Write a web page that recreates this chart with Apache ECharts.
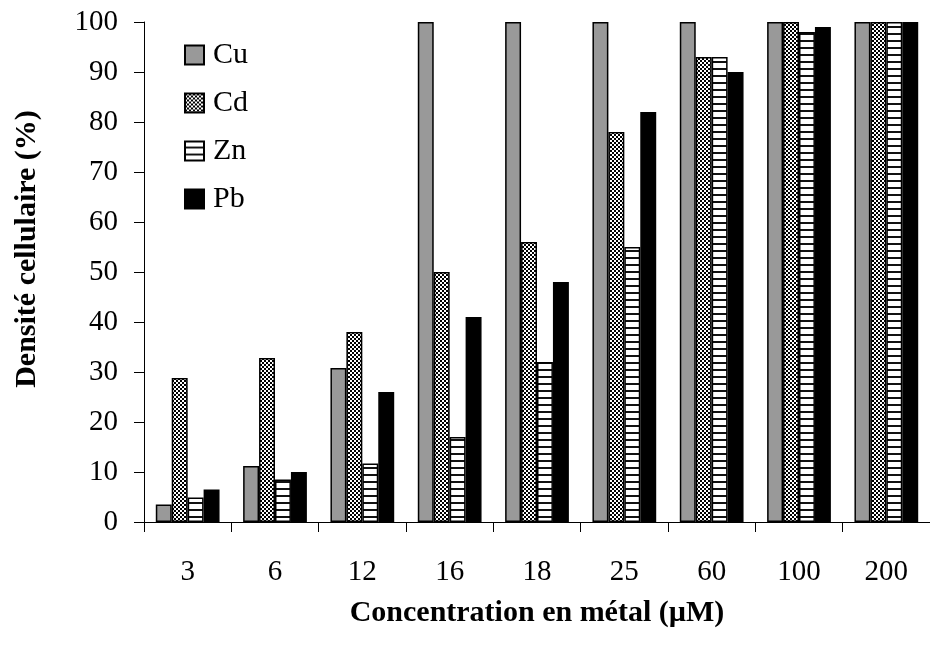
<!DOCTYPE html>
<html>
<head>
<meta charset="utf-8">
<script src="https://cdn.jsdelivr.net/npm/echarts@6/dist/echarts.min.js"></script>
<style>
  html, body { margin: 0; padding: 0; background: #fff; }
  #chart { width: 930px; height: 657px; }
</style>
</head>
<body>
<div id="chart"></div>
<script>
var categories = ['3', '6', '12', '16', '18', '25', '60', '100', '200'];
var cu = [3.5, 11.2, 30.8, 100, 100, 100, 100, 100, 100];
var cd = [28.8, 32.8, 38, 50, 56, 78, 93, 100, 100];
var zn = [4.9, 8.5, 11.7, 17, 32, 55, 93, 98, 100];
var pb = [6.5, 10, 26, 41, 48, 82, 90, 99, 100];

var font = '"Liberation Serif", "Times New Roman", serif';

// checker pattern for Cd
function makeChecker() {
  var c = document.createElement('canvas');
  c.width = 4; c.height = 4;
  var ctx = c.getContext('2d');
  ctx.fillStyle = '#fff';
  ctx.fillRect(0, 0, 4, 4);
  ctx.fillStyle = '#000';
  ctx.fillRect(0, 0, 2, 2);
  ctx.fillRect(2, 2, 2, 2);
  return c;
}

// horizontal stripes for Zn
function makeStripes() {
  var c = document.createElement('canvas');
  c.width = 4; c.height = 7;
  var ctx = c.getContext('2d');
  ctx.fillStyle = '#fff';
  ctx.fillRect(0, 0, 4, 7);
  ctx.fillStyle = '#111';
  ctx.fillRect(0, 5, 4, 2);
  return c;
}

var chart = echarts.init(document.getElementById('chart'));

function bar(name, data, color) {
  return {
    name: name,
    type: 'bar',
    data: data,
    barGap: '0%',
    barCategoryGap: '27%',
    itemStyle: { color: color, borderColor: '#000', borderWidth: 1.5 }
  };
}

var option = {
  animation: false,
  backgroundColor: '#fff',
  grid: { left: 144, top: 22, right: -8, bottom: 135 },
  legend: {
    orient: 'vertical',
    left: 179,
    top: 35,
    itemWidth: 19,
    itemHeight: 19,
    itemGap: 18,
    icon: 'rect',
    textStyle: { fontFamily: font, fontSize: 30, color: '#000', padding: [0, 0, 0, 4] },
    data: ['Cu', 'Cd', 'Zn', 'Pb']
  },
  xAxis: {
    type: 'category',
    data: categories,
    name: 'Concentration en métal (µM)',
    nameLocation: 'middle',
    nameGap: 76,
    nameTextStyle: { fontFamily: font, fontSize: 30, fontWeight: 'bold', color: '#000' },
    axisLine: { lineStyle: { color: '#000', width: 1 } },
    axisTick: { show: true, length: 10, lineStyle: { color: '#000' } },
    axisLabel: { fontFamily: font, fontSize: 29, color: '#000', margin: 36 }
  },
  yAxis: {
    type: 'value',
    min: 0,
    max: 100,
    interval: 10,
    name: 'Densité cellulaire (%)',
    nameLocation: 'middle',
    nameGap: 102,
    nameTextStyle: { fontFamily: font, fontSize: 30, fontWeight: 'bold', color: '#000', padding: [0, 0, 0, 46] },
    axisLine: { show: true, lineStyle: { color: '#000', width: 1 } },
    axisTick: { show: true, length: 10, lineStyle: { color: '#000' } },
    axisLabel: { fontFamily: font, fontSize: 29, color: '#000', margin: 26 },
    splitLine: { show: false }
  },
  series: [
    bar('Cu', cu, '#999999'),
    bar('Cd', cd, { image: makeChecker(), repeat: 'repeat' }),
    bar('Zn', zn, { image: makeStripes(), repeat: 'repeat' }),
    bar('Pb', pb, '#000000')
  ]
};

chart.setOption(option);
</script>
</body>
</html>
